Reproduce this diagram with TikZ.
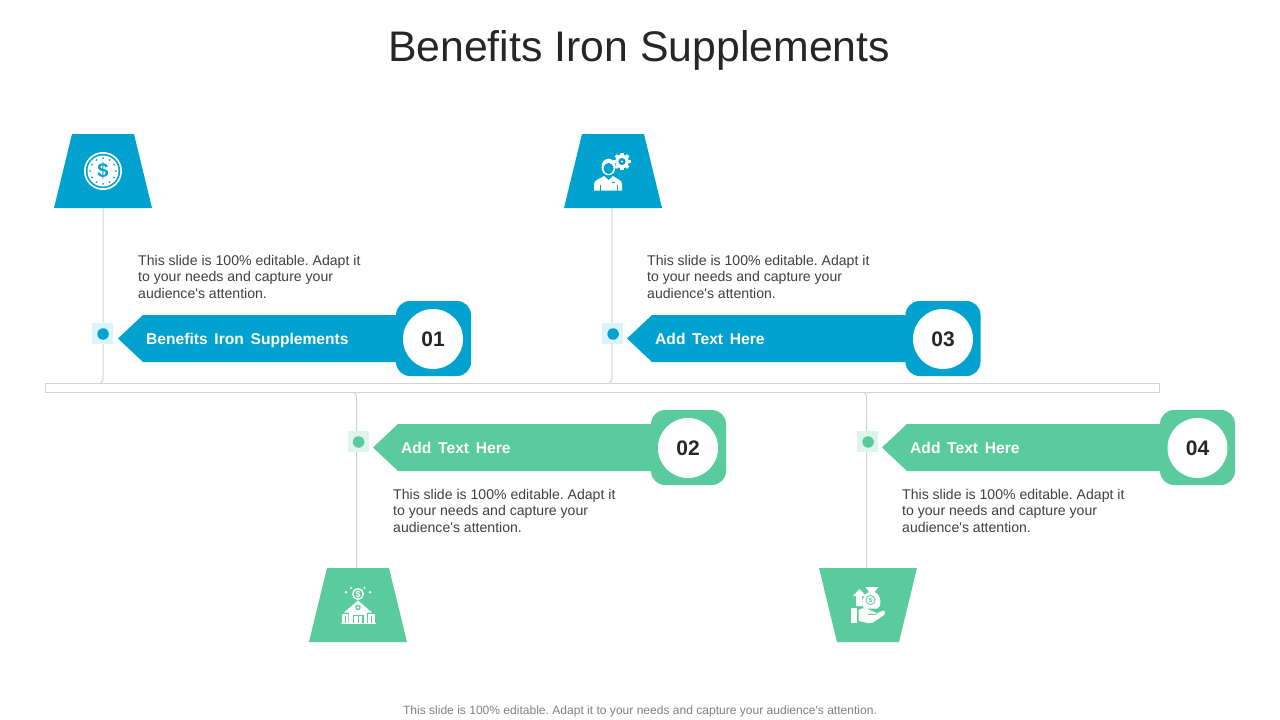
\documentclass[tikz,border=0pt]{standalone}
\usepackage{fontspec}
\setmainfont{Liberation Sans}
\usetikzlibrary{calc}
\definecolor{blueC}{HTML}{02A2D0}
\definecolor{greenC}{HTML}{5ACB9D}
\definecolor{blueL}{HTML}{DAF4FA}
\definecolor{greenL}{HTML}{DEF4EC}
\definecolor{lineC}{HTML}{D2D2D2}
\definecolor{bodyC}{HTML}{404040}
\frenchspacing
\newcommand{\bandtext}[1]{\fontsize{15.6}{18}\selectfont\bfseries\spaceskip 6.7pt\relax #1}

\begin{document}
\begin{tikzpicture}[x=1pt,y=-1pt]
    % square behind the dots on the stems
    \tikzstyle{patch}=[inner sep=0, minimum size=21pt]
    \tikzstyle{dot}=[circle, inner sep=0, minimum size=11.5pt]
    % box and disc at the end of a band
    \tikzstyle{box}=[inner sep=0, minimum size=75pt, rounded corners=14pt]
    \tikzstyle{disc}=[circle, fill=white, inner sep=0, minimum size=60pt, text=black!85, font=\fontsize{21}{24}\selectfont\bfseries]
    \tikzstyle{band}=[anchor=base west, inner sep=0, text=white]
    \tikzstyle{body}=[anchor=north west, inner sep=0, align=left, text=bodyC, font=\fontsize{14.08}{16.5}\selectfont]
    \tikzstyle{stem}=[line width=1pt, lineC]

    \useasboundingbox (0,0) rectangle (1280,720);

    \node[text=black!85, font=\fontsize{42.8}{50}\selectfont] (title) at (639,50) {Benefits Iron Supplements};
    \node[text=black!50, font=\fontsize{12.05}{14}\selectfont] (foot) at (640,711.5) {This slide is 100\% editable. Adapt it to your needs and capture your audience\textquotesingle s attention.};

    % trapezoids holding the icons
    \coordinate (trapA) at (103,171);
    \coordinate (trapC) at (613,171);
    \coordinate (trapB) at (358,605);
    \coordinate (trapD) at (868,605);
    \fill[blueC] ($(trapA)+(-31,-37)$) -- ($(trapA)+(31,-37)$) -- ($(trapA)+(49,37)$) -- ($(trapA)+(-49,37)$) -- cycle;
    \fill[blueC] ($(trapC)+(-31,-37)$) -- ($(trapC)+(31,-37)$) -- ($(trapC)+(49,37)$) -- ($(trapC)+(-49,37)$) -- cycle;
    \fill[greenC] ($(trapB)+(-31,-37)$) -- ($(trapB)+(31,-37)$) -- ($(trapB)+(49,37)$) -- ($(trapB)+(-49,37)$) -- cycle;
    \fill[greenC] ($(trapD)+(-49,-37)$) -- ($(trapD)+(49,-37)$) -- ($(trapD)+(31,37)$) -- ($(trapD)+(-31,37)$) -- cycle;

    % stems, with the small bend where they reach the bar
    \coordinate (footA) at (100,383.5);
    \coordinate (footC) at (609,383.5);
    \coordinate (footB) at (353.5,392);
    \coordinate (footD) at (863.5,392);
    \draw[stem] ($(trapA)+(0,37)$) -- ($(footA)+(3,-7)$) .. controls ($(footA)+(3,-3)$) .. (footA);
    \draw[stem] ($(trapC)+(-1,37)$) -- ($(footC)+(3,-7)$) .. controls ($(footC)+(3,-3)$) .. (footC);
    \draw[stem] ($(trapB)+(-1.5,-37)$) -- ($(footB)+(3,7)$) .. controls ($(footB)+(3,3)$) .. (footB);
    \draw[stem] ($(trapD)+(-1.5,-37)$) -- ($(footD)+(3,7)$) .. controls ($(footD)+(3,3)$) .. (footD);
    \node[draw=lineC, line width=1pt, fill=white, inner sep=0, minimum width=1114.5pt, minimum height=8.5pt] (bar) at (602.3,387.8) {};

    \node[patch, fill=blueL] (patchA) at (102.5,333.5) {};
    \node[patch, fill=blueL] (patchC) at (612.5,333.5) {};
    \node[patch, fill=greenL] (patchB) at (358,441.5) {};
    \node[patch, fill=greenL] (patchD) at (867.5,441.5) {};
    \node[dot, fill=blueC] (dotA) at ($(patchA)+(.6,.5)$) {};
    \node[dot, fill=blueC] (dotC) at ($(patchC)+(.6,.5)$) {};
    \node[dot, fill=greenC] (dotB) at ($(patchB)+(.6,.5)$) {};
    \node[dot, fill=greenC] (dotD) at ($(patchD)+(.6,.5)$) {};

    % bands
    \coordinate (tipA) at (118,338.5);
    \coordinate (tipC) at (627,338.5);
    \coordinate (tipB) at (373,447.5);
    \coordinate (tipD) at (882,447.5);
    \fill[blueC] (tipA) -- ++(25,-23.5) -- ++(260,0) -- ++(0,47) -- ++(-260,0) -- cycle;
    \fill[blueC] (tipC) -- ++(25,-23.5) -- ++(260,0) -- ++(0,47) -- ++(-260,0) -- cycle;
    \fill[greenC] (tipB) -- ++(25,-23.5) -- ++(260,0) -- ++(0,47) -- ++(-260,0) -- cycle;
    \fill[greenC] (tipD) -- ++(25,-23.5) -- ++(260,0) -- ++(0,47) -- ++(-260,0) -- cycle;

    \node[box, fill=blueC] (boxA) at (433.5,338.5) {};
    \node[box, fill=blueC] (boxC) at (943,338.5) {};
    \node[box, fill=greenC] (boxB) at (688.5,447.5) {};
    \node[box, fill=greenC] (boxD) at (1197.5,447.5) {};
    \node[disc] (numA) at (433,339) {01};
    \node[disc] (numC) at (943,339) {03};
    \node[disc] (numB) at (688,448) {02};
    \node[disc] (numD) at (1197.5,448) {04};

    \node[band] (labelA) at (146,344) {\bandtext{Benefits Iron Supplements}};
    \node[band] (labelC) at (655,344) {\bandtext{Add Text Here}};
    \node[band] (labelB) at (401,453) {\bandtext{Add Text Here}};
    \node[band] (labelD) at (910,453) {\bandtext{Add Text Here}};

    \node[body] (textA) at (138,255) {This slide is 100\% editable. Adapt it\\to your needs and capture your\\audience\textquotesingle s attention.};
    \node[body] (textC) at (647,255) {This slide is 100\% editable. Adapt it\\to your needs and capture your\\audience\textquotesingle s attention.};
    \node[body] (textB) at (393,489) {This slide is 100\% editable. Adapt it\\to your needs and capture your\\audience\textquotesingle s attention.};
    \node[body] (textD) at (902,489) {This slide is 100\% editable. Adapt it\\to your needs and capture your\\audience\textquotesingle s attention.};

    % coin icon
    \coordinate (coin) at (103,171);
    \fill[white] (coin) circle (19);
    \fill[blueC] (coin) circle (17.2);
    \fill[white] (coin) circle (15.5);
    \foreach \a in {0,30,...,330}
        \fill[blueC] ($(coin)+(\a:12.8)$) circle (1);
    \node[inner sep=0, text=blueC, font=\fontsize{20}{22}\selectfont\bfseries] (coinSign) at (coin) {\$};

    % worker with gear icon
    \coordinate (gear) at (622,161.5);
    \foreach \a in {0,45,...,315}
        \draw[white, line width=3.4pt] (gear) -- ($(gear)+(\a:8.7)$);
    \fill[white] (gear) circle (6.8);
    \fill[blueC] (gear) circle (3.6);
    \fill[white] (gear) circle (1.2);
    \coordinate (head) at (608.5,167);
    \fill[white] (head) ellipse (7 and 8.3);
    \fill[blueC] ($(head)+(0,1.5)$) ellipse (5 and 5.6);
    \fill[blueC] ($(head)+(-5,-0.5)$) -- ($(head)+(0,-3.5)$) -- ($(head)+(5,-0.5)$) -- cycle;
    \fill[white] (594,190.5) -- (594,184) .. controls (594,180) and (600,179) .. (604,176) -- (608.5,180) -- (613,176) .. controls (617,179) and (622,180) .. (622,184) -- (622,190.5) -- cycle;
    \draw[blueC, line width=.7pt] (600,190.5) -- (600,185) (617,190.5) -- (617,185) (612,182.5) -- (615,182.5);

    % bank with coin icon
    \coordinate (bank) at (358,594);
    \draw[white, line width=1.3pt] (bank) circle (5.3);
    \node[inner sep=0, text=white, font=\fontsize{9}{10}\selectfont\bfseries] (bankSign) at (bank) {\$};
    \fill[white] (346,592.3) circle (1.4) (351,588) circle (1.1) (364.5,588) circle (1.1) (370,592.3) circle (1.4);
    \fill[white] (344,612.5) -- (358,600.5) -- (372,612.5) -- cycle;
    \fill[white] (349,612) rectangle (367,623.5);
    \fill[white] (342,614) rectangle (348.3,623.5) (368,614) rectangle (374.8,623.5);
    \fill[greenC] (358,607.5) circle (2.8);
    \fill[white] (358,607.5) circle (1.4);
    \fill[greenC] (352.5,614.5) rectangle (363.5,623.5);
    \fill[white] (354,616) rectangle (362,623.5);
    \fill[greenC] (357.5,616) rectangle (358.5,623.5);
    \draw[greenC, line width=.7pt] (345,616) -- (345,623.5) (371.5,616) -- (371.5,623.5);
    \draw[white, line width=1pt] (341,623.5) -- (375.5,623.5);

    % hand with money bag icon
    \coordinate (bag) at (870.5,600);
    \fill[white] (856,606) -- (856,596) -- (853,596) -- (859.5,589) -- (866,596) -- (862,596) -- (862,606) -- cycle;
    \fill[white] (865.5,587) -- (878.5,587) -- (874.5,592) .. controls (882,595) and (882,607) .. (877,608.5) -- (864,608.5) .. controls (860,604) and (862,595) .. (869,592) -- cycle;
    \draw[greenC, line width=.8pt] (bag) circle (4.6);
    \node[inner sep=0, text=greenC, font=\fontsize{6.5}{7}\selectfont\bfseries] (bagSign) at (bag) {\$};
    \fill[white] (851,608) rectangle (857,623);
    \fill[white] (858.5,610) .. controls (864,606.5) and (868,609) .. (872,611) -- (877,613) -- (884,610.5) .. controls (885.5,612) and (885.5,613.5) .. (884,615) -- (873,622.5) .. controls (867,624.5) and (863,621) .. (858.5,621) -- cycle;
    \draw[greenC, line width=.7pt] (868,614.5) -- (875,614.5) -- (878,612.5);
\end{tikzpicture}
\end{document}
